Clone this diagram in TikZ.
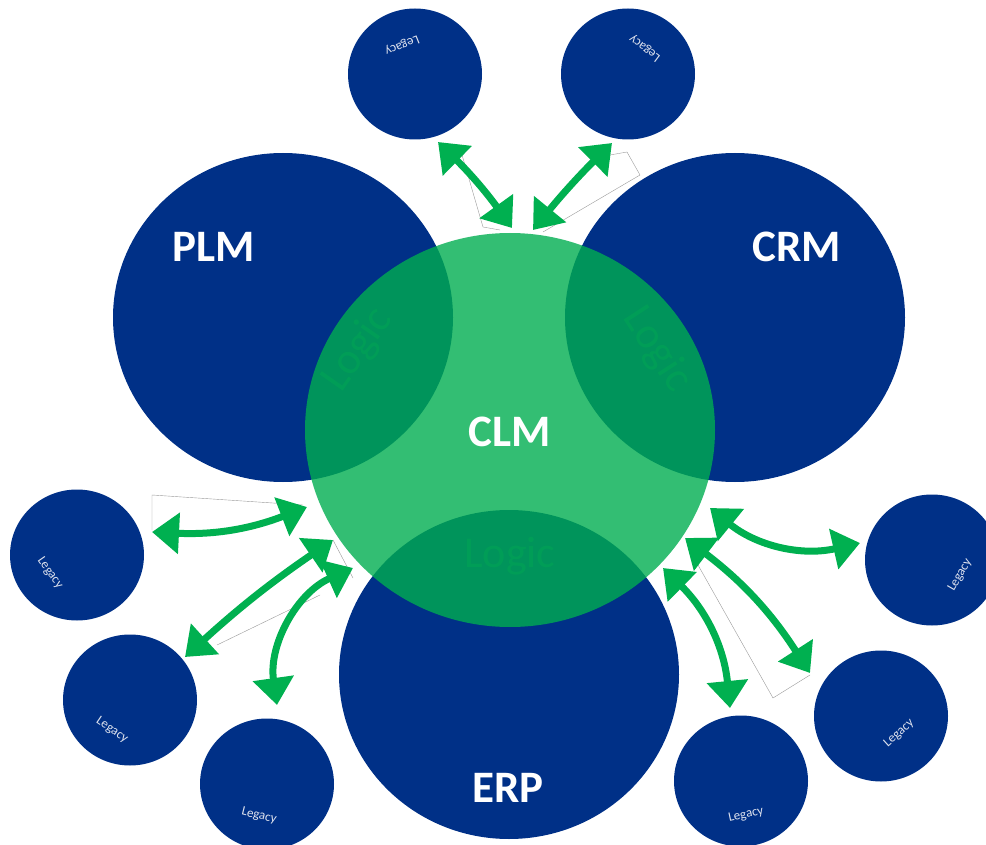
\documentclass[tikz,border=0pt]{standalone}
\usepackage{fontspec}
\setmainfont{Carlito}
\usetikzlibrary{arrows.meta,shapes.geometric}

\definecolor{navy}{RGB}{0,48,135}
\definecolor{clmgreen}{RGB}{0,174,80}
\definecolor{arrowgreen}{RGB}{0,176,80}
\definecolor{legacytext}{RGB}{222,226,238}

\tikzset{
  bigsys/.style={ellipse, fill=navy, draw=none, inner sep=0pt,
                 minimum width=340pt, minimum height=329pt},
  legacysys/.style={ellipse, fill=navy, draw=none, inner sep=0pt,
                    minimum width=134pt, minimum height=131pt},
  core/.style={ellipse, fill=clmgreen, fill opacity=0.8, draw=none, inner sep=0pt,
               minimum width=410pt, minimum height=394pt},
  syslabel/.style={text=white, font=\fontsize{45}{45}\selectfont\bfseries, inner sep=0pt},
  logiclabel/.style={text=arrowgreen, text opacity=0.35,
                     font=\fontsize{44}{44}\selectfont, inner sep=0pt},
  legacylabel/.style={text=legacytext, font=\fontsize{13}{13}\selectfont, inner sep=0pt},
  link/.style={draw=arrowgreen, line width=7pt,
               {Triangle[length=27pt,width=40pt]}-{Triangle[length=27pt,width=40pt]}},
  frame/.style={draw=black!40, line width=0.4pt}
}

\begin{document}
\begin{tikzpicture}[x=1pt, y=-1pt]
\useasboundingbox (0,0) rectangle (986,845);

% main systems
\node[bigsys] (plm) at (283,317.5) {};
\node[bigsys] (crm) at (735,317.5) {};
\node[bigsys] (erp) at (509,674.5) {};

% legacy systems
\node[legacysys] (lg1) at (415,74) {};
\node[legacysys] (lg2) at (628,74) {};
\node[legacysys] (lg3) at (77,555) {};
\node[legacysys] (lg4) at (130,700) {};
\node[legacysys] (lg5) at (267,784) {};
\node[legacysys] (lg6) at (932,560) {};
\node[legacysys] (lg7) at (881,716) {};
\node[legacysys] (lg8) at (741,781) {};

% legacy captions
\node[legacylabel, rotate=-158] (t1) at (402,45) {Legacy};
\node[legacylabel, rotate=143] (t2) at (645,48) {Legacy};
\node[legacylabel, rotate=-55] (t3) at (50,573) {Legacy};
\node[legacylabel, rotate=-34] (t4) at (112,730) {Legacy};
\node[legacylabel, rotate=-14] (t5) at (259,816) {Legacy};
\node[legacylabel, rotate=60] (t6) at (960,575) {Legacy};
\node[legacylabel, rotate=42] (t7) at (899,733) {Legacy};
\node[legacylabel, rotate=12] (t8) at (746,815) {Legacy};

% translucent core
\node[core] (clm) at (510,430) {};

% overlap captions
\node[logiclabel, rotate=55] (lgc1) at (358,350) {Logic};
\node[logiclabel, rotate=-57] (lgc2) at (657,350) {Logic};
\node[logiclabel] (lgc3) at (510,556) {Logic};

% system names
\node[syslabel] (nplm) at (214,247) {PLM};
\node[syslabel] (ncrm) at (797,247) {CRM};
\node[syslabel] (nclm) at (510,432) {CLM};
\node[syslabel] (nerp) at (508,788) {ERP};

% thin outline frames
\draw[frame] (460,148) -- (483,227) -- (500,230);
\draw[frame] (610,155) -- (627,152) -- (640,175) -- (543,232);
\draw[frame] (152,530) -- (152,495) -- (303,505);
\draw[frame] (333,540) -- (353,578);
\draw[frame] (320,595) -- (217,645);
\draw[frame] (698,565) -- (773,698) -- (810,675);

% arrow end points
\coordinate (a1s) at (438,142); \coordinate (a1e) at (512,228);
\coordinate (a2s) at (612,143); \coordinate (a2e) at (533,230);
\coordinate (b1s) at (152,532); \coordinate (b1e) at (307,507);
\coordinate (b2s) at (333,540); \coordinate (b2e) at (185,657);
\coordinate (b3s) at (353,568); \coordinate (b3e) at (277,705);
\coordinate (c1s) at (710,508); \coordinate (c1e) at (860,543);
\coordinate (c2s) at (685,538); \coordinate (c2e) at (810,673);
\coordinate (c3s) at (663,568); \coordinate (c3e) at (730,708);

% data links
\draw[link] (a1s) to[bend left=5] (a1e);
\draw[link] (a2s) to[bend right=3] (a2e);
\draw[link] (b1s) to[bend right=12] (b1e);
\draw[link] (b2s) to[bend right=4] (b2e);
\draw[link] (b3s) to[bend right=37] (b3e);
\draw[link] (c1s) to[bend right=26] (c1e);
\draw[link] (c2s) to[bend left=10] (c2e);
\draw[link] (c3s) to[bend left=20] (c3e);
\end{tikzpicture}
\end{document}
